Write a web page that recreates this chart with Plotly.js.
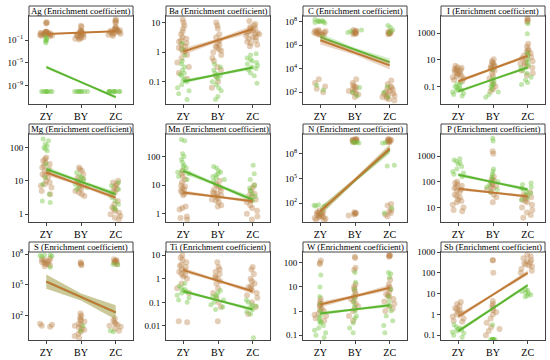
<!DOCTYPE html>
<html>
<head>
<meta charset="utf-8">
<script src="https://cdn.plot.ly/plotly-3.0.1.min.js"></script>
<style>
  body { margin: 0; background: #fff; }
  #chart { width: 550px; height: 360px; }
</style>
</head>
<body>
<div id="chart"></div>
<script>
var cats = ["ZY", "BY", "ZC"];

// all values are log10 of the enrichment coefficient
// each element list: [ZY points], [BY points], [ZC points]
var agBrown = [[2.1,1.9,2.0,0.5,0.4,0.3,0.2,0.1,0.0,-0.1,-0.2,0.35,0.15,-0.05,0.25,0.05,-0.15,-0.3,0.45,0.1,-0.25,0.0],
  [1.5,1.3,0.7,0.5,0.3,0.1,-0.1,-0.3,-0.5,-0.7,-0.9,0.2,0.0,-0.2,-0.4,0.4,-0.6,0.6,-0.8,0.1],
  [2.6,2.4,2.2,2.0,1.3,1.1,0.9,0.8,0.7,0.6,0.5,0.4,0.3,0.1,-0.1,-0.3,1.0,0.75,0.55,0.35,0.2,0.0]];
var agGreen = [[-0.4,-0.7,-1.0,-1.2,-1.5,-0.9,-10,-10,-10,-10,-10,-10,-10,-10],
  [-10,-10,-10,-10,-10,-10,-10,-10],
  [-10,-10,-10,-10,-10,-10,-10,-10,-10,-10]];
var agBrownFit = [0.03, 0.54], agGreenFit = [-5.74, -11.0], agBand = [0.1, 0.3];

var baBrown = [[1.1,1.0,0.9,0.8,0.7,0.6,0.5,0.4,0.3,0.2,0.1,0.05,0.0,-0.1,0.15,0.25,-0.2,-0.35,-0.5,-0.7,-0.9,0.45,0.35],
  [1.0,0.9,0.8,0.6,0.5,0.4,0.3,0.2,0.1,0.0,-0.1,-0.2,-0.3,-0.5,-0.6,-0.8,-1.0,-1.2,0.25,0.15,0.05],
  [1.05,0.95,0.9,0.85,0.8,0.75,0.7,0.65,0.6,0.55,0.5,0.45,0.4,0.35,0.3,0.25,0.2,0.7,0.6,0.5,0.8,0.65]];
var baGreen = [[0.3,0.1,-0.1,-0.3,-0.4,-0.5,-0.6,-0.7,-0.8,-0.9,-1.0,-1.1,-1.2,-1.3,-1.4,-1.6,-0.95,-0.75],
  [-0.4,-0.5,-0.6,-0.7,-0.75,-0.8,-0.9,-1.0,-1.1,-1.2,-1.3,-1.5,-1.6,-0.85],
  [-0.05,-0.1,-0.2,-0.3,-0.35,-0.4,-0.5,-0.55,-0.6,-0.7,-0.8,-1.05,-0.45,-0.25]];
var baBrownFit = [0.02, 0.78], baGreenFit = [-0.99, -0.52], baBand = [0.12, 0.07];

var cBrown = [[7.3,7.2,7.1,7.0,6.9,6.85,7.15,7.05,6.95,7.25,7.0,7.1,6.9,7.2,3.1,2.8,2.5,2.3,2.0],
  [7.3,7.2,7.1,7.0,6.95,7.15,7.05,7.25,7.0,3.1,2.8,2.6,2.4,2.2,2.0,1.8,1.6,2.5,2.3,2.1,1.9],
  [7.2,7.1,7.0,6.95,7.05,7.15,7.0,3.0,2.7,2.5,2.3,2.2,2.0,1.9,1.8,1.7,1.6,1.5,1.4,1.3,2.1,1.85,1.65,2.4]];
var cGreen = [[8.2,8.1,8.0,7.95,8.05,7.9,8.1,8.0,2.6,2.2],
  [7.3,7.2,7.1,2.4,2.0,1.7],
  [7.7,7.55,7.3,7.1,2.5,2.0,1.6]];
var cBrownFit = [6.43, 4.29], cGreenFit = [6.7, 4.57], cBand = [0.35, 0.3];

var iBrown = [[0.55,0.45,0.4,0.3,0.25,0.2,0.1,0.0,-0.1,-0.2,-0.3,-0.4,-0.5,-0.6,0.35,0.15,-0.05,-0.25],
  [1.05,0.9,0.8,0.7,0.6,0.5,0.4,0.3,0.2,0.0,-0.2,-0.4,-0.6,-0.8,-1.0,-1.2,-1.35,0.55,0.35],
  [4.1,4.0,3.9,3.85,2.2,2.0,1.8,1.6,1.5,1.4,1.3,1.2,1.1,1.0,0.9,0.8,0.7,0.6,0.5,0.4,0.2,0.0,-0.15,1.7]];
var iGreen = [[-0.7,-0.8,-0.9,-1.0,-1.1,-1.2,-1.3,-1.4,-1.5,-1.6,-1.7,-1.05,-1.25],
  [-0.4,-0.6,-0.8,-1.0,-1.2,-1.4,-1.6,-1.8,0.3,-0.9],
  [2.95,3.7,1.5,1.3,1.0,0.8,0.6,0.4,0.2,0.0,-0.3,-0.5,-0.7,-0.85]];
var iBrownFit = [-0.6, 1.29], iGreenFit = [-1.36, 0.43], iBand = [0.15, 0.12];

var mgBrown = [[1.7,1.65,1.6,1.55,1.5,1.45,1.4,1.3,1.25,1.2,1.15,1.1,1.0,0.95,0.9,0.85,0.8,0.7,0.6,1.35],
  [1.4,1.35,1.3,1.2,1.1,1.05,1.0,0.95,0.9,0.85,0.8,0.75,0.7,0.65,0.6,0.55],
  [1.0,0.95,0.9,0.85,0.8,0.75,0.7,0.65,0.2,0.15,0.1,0.05,0.0,-0.05,-0.1,-0.15,0.3,0.4]];
var mgGreen = [[2.25,2.2,2.1,2.05,2.0,1.95,1.9,1.5,1.3,1.1,0.9,0.6,0.4,0.35],
  [1.25,1.15,1.05,1.0,0.95,0.9,0.85,0.8,0.75,1.1],
  [0.95,0.85,0.75,0.6,0.5,0.4,0.3,0.2,0.15]];
var mgBrownFit = [1.25, 0.5], mgGreenFit = [1.35, 0.6], mgBand = [0.08, 0.08];

var mnBrown = [[1.5,1.4,1.3,1.2,1.1,1.0,0.9,0.85,0.8,0.75,0.7,0.65,0.25,0.2,0.15,-0.1,-0.15,-0.2,0.95],
  [1.15,1.05,1.0,0.95,0.9,0.85,0.8,0.75,0.7,0.65,0.6,0.55,0.5,0.45,0.4,0.3,0.25,0.7],
  [1.0,0.9,0.8,0.7,0.6,0.5,0.4,0.3,0.2,0.1,0.0,-0.1,-0.2,0.65,0.45]];
var mnGreen = [[2.6,2.55,2.1,2.0,1.9,1.8,1.7,1.6,1.5,1.4,1.3,1.2,1.45,1.65],
  [1.65,1.6,1.5,1.4,1.35,1.3,1.25,1.2,1.15,1.45],
  [1.7,1.4,1.2,1.0,0.9,0.8,0.7,0.6,0.5,0.45]];
var mnBrownFit = [0.74, 0.44], mnGreenFit = [1.5, 0.49], mnBand = [0.07, 0.1];

var nBrown = [[1.1,1.0,0.9,0.8,0.7,0.6,0.5,0.4,0.3,0.2,0.1,0.0,-0.1,0.85,0.65,0.45,0.25],
  [9.8,9.75,9.7,9.65,9.6,9.55,9.5,9.45,9.4,9.7,9.6,0.9,0.8,0.7,0.6,0.5,0.75],
  [9.8,9.7,9.65,9.6,9.55,9.5,9.45,9.4,9.7,1.9,1.7,1.2,1.0,0.8,0.6,0.4]];
var nGreen = [[1.8,1.7,1.65,1.75,1.6],
  [9.4,9.35,9.3,9.45],
  [9.3,9.35,6.6,6.5,1.4,0.8]];
var nBrownFit = [1.0, 8.65], nGreenFit = [1.05, 8.5], nBand = [0.5, 0.5];

var pBrown = [[2.0,1.95,1.9,1.85,1.8,1.75,1.7,1.65,1.6,1.5,1.4,1.3,1.2,1.1,1.0,0.9,0.85,1.45,1.25],
  [3.2,3.1,2.2,2.1,2.0,1.95,1.9,1.85,1.8,1.7,1.6,1.5,1.4,1.2,2.05,1.75],
  [1.6,1.5,1.45,1.4,1.35,1.3,1.2,1.1,1.0,0.9,0.8,0.7,0.6,1.25]];
var pGreen = [[2.9,2.85,2.8,2.7,2.6,2.5,2.4,2.3,2.2,2.75,2.35],
  [3.7,3.6,2.5,2.4,2.3,2.2,2.1,2.0,1.9,1.8,1.7,1.6],
  [1.95,1.9,1.8,1.7,1.6,1.5,1.4,1.3,1.75,1.55]];
var pBrownFit = [1.73, 1.43], pGreenFit = [2.28, 1.7], pBand = [0.07, 0.08];

var sBrown = [[7.6,7.5,7.4,7.3,7.2,7.1,7.0,6.9,6.8,7.45,7.25,7.05,1.2,1.1,1.0,0.9],
  [7.2,7.1,7.0,6.9,2.2,2.0,1.8,1.6,1.4,1.2,1.0,0.8,0.6,0.4,0.2,0.0,-0.2,1.5,1.1,0.7],
  [7.5,7.4,7.3,7.2,7.1,7.0,7.35,7.25,1.7,1.5,1.3,1.1,1.0,0.9,0.7,0.5,1.2]];
var sGreen = [[7.9,7.85,7.8,7.9,7.75,6.7],
  [1.0,0.5],
  [7.0,6.95,0.5,0.4]];
var sBrownFit = [5.3, 2.3], sGreenFit = [5.3, 2.3], sBand = [0.7, 0.7];

var tiBrown = [[1.0,0.9,0.8,0.7,0.6,0.5,0.4,0.3,0.2,0.1,0.0,-0.2,-0.4,-0.6,0.55,0.35,0.15,-1.8,-1.85],
  [0.7,0.5,0.4,0.3,0.2,0.1,0.0,-0.1,-0.2,-0.4,-0.6,-0.8,-1.0,-1.2,-1.8,0.05],
  [0.5,0.4,0.2,0.0,-0.1,-0.2,-0.3,-0.4,-0.5,-0.6,-0.7,-0.8,-1.0,-1.2,-1.5,-0.35]];
var tiGreen = [[-0.2,-0.3,-0.4,-0.5,-0.6,-0.7,-0.8,-0.9,-1.0,-0.55,-0.45],
  [-0.5,-0.6,-0.7,-0.8,-0.9,-1.0,-1.1,-1.2,-1.3,-0.75],
  [-0.9,-1.0,-1.1,-1.2,-1.3,-1.4,-1.5,-1.15,-2.5]];
var tiBrownFit = [0.37, -0.53], tiGreenFit = [-0.53, -1.3], tiBand = [0.1, 0.08];

var wBrown = [[2.1,2.0,1.95,0.5,0.4,0.3,0.2,0.1,0.0,-0.1,-0.2,-0.3,-0.4,0.25,0.05,-0.15],
  [2.25,2.2,1.8,1.7,1.1,1.0,0.9,0.8,0.7,0.6,0.5,0.4,0.3,0.2,0.1,0.0,-0.2,-0.4,0.55],
  [2.3,2.3,2.3,2.25,1.3,1.1,1.0,0.9,0.8,0.7,0.6,0.5,0.4,0.3,0.2,0.1,0.0,0.65]];
var wGreen = [[1.5,1.0,0.6,0.3,0.0,-0.2,-0.3,-0.4,-0.5,-0.6,-0.7,-0.8,-0.9,-1.0,-1.1,-0.45],
  [1.6,1.2,0.9,0.6,0.4,0.2,0.0,-0.2,-0.3,-0.5,-0.7,-0.9],
  [1.6,1.55,1.4,0.9,0.6,0.4,0.2,0.0,-0.2,-0.4,-0.6,-0.9]];
var wBrownFit = [0.27, 0.97], wGreenFit = [-0.1, 0.24], wBand = [0.12, 0.08];

var sbBrown = [[0.6,0.5,0.4,0.3,0.2,0.1,0.0,-0.1,-0.2,-0.3,-0.35,0.25,0.05],
  [2.6,2.6,2.0,0.65,0.5,0.4,0.3,0.1,0.0,-0.2,-0.4,-0.6,-0.7,-0.8,-1.0,0.2],
  [2.85,2.8,2.7,2.6,2.5,2.45,2.4,2.3,2.2,2.1,2.0,2.55,2.35]];
var sbGreen = [[-0.5,-0.6,-0.7,-0.75,-0.8,-0.85,-0.9,-1.0,-1.1,-0.65],
  [-1.2,-1.2,-1.2,-1.2,-1.2,-1.2,-1.2,-0.5],
  [1.2,1.1,1.05,1.0,0.95,0.9,0.85,1.15]];
var sbBrownFit = [-0.1, 2.0], sbGreenFit = [-0.8, 1.4], sbBand = [0.12, 0.1];

// y ranges (log10) and tick exponents per panel
var names  = ["Ag","Ba","C","I","Mg","Mn","N","P","S","Ti","W","Sb"];
var yRanges = [[-12.2,3.2],[-1.75,1.22],[1.0,8.5],[-2.3,4.27],[-0.23,2.4],[-0.29,2.79],
  [-0.3,10.4],[0.43,3.87],[-0.4,8.2],[-2.6,1.14],[-1.2,2.45],[-1.23,3.0]];
var yTicks = [[-1,-5,-9],[-1,0,1],[2,4,6,8],[-1,1,3],[0,1,2],[0,1,2],
  [2,5,8],[1,2,3],[2,5,8],[-2,-1,0,1],[-1,0,1,2],[-1,0,1,2,3]];
var powerLabels = ["Ag","C","N","S"];

var brownSets = [agBrown,baBrown,cBrown,iBrown,mgBrown,mnBrown,nBrown,pBrown,sBrown,tiBrown,wBrown,sbBrown];
var greenSets = [agGreen,baGreen,cGreen,iGreen,mgGreen,mnGreen,nGreen,pGreen,sGreen,tiGreen,wGreen,sbGreen];
var brownFits = [agBrownFit,baBrownFit,cBrownFit,iBrownFit,mgBrownFit,mnBrownFit,nBrownFit,pBrownFit,sBrownFit,tiBrownFit,wBrownFit,sbBrownFit];
var greenFits = [agGreenFit,baGreenFit,cGreenFit,iGreenFit,mgGreenFit,mnGreenFit,nGreenFit,pGreenFit,sGreenFit,tiGreenFit,wGreenFit,sbGreenFit];
var bands = [agBand,baBand,cBand,iBand,mgBand,mnBand,nBand,pBand,sBand,tiBand,wBand,sbBand];

var brownPt = "rgba(185,125,65,0.38)", greenPt = "rgba(110,195,60,0.42)";
var brownLine = "#c07a35", greenLine = "#5cb531";
var brownFill = "rgba(195,135,80,0.35)", greenFill = "rgba(120,200,80,0.35)";
var serif = "Liberation Serif, Times New Roman, serif";

// page layout in pixels
var colL = [29, 166, 303, 441], colW = 104;
var stripTop = [6, 124, 242], stripH = 10, plotH = 88;
var W = 550, H = 360;

function pow10(a) { return a.map(function (v) { return Math.pow(10, v); }); }

function points(sets, color, size, k) {
  var x = [], y = [];
  sets.forEach(function (vals, c) {
    vals.forEach(function (v) { x.push(cats[c]); y.push(Math.pow(10, v)); });
  });
  return {
    type: "box", x: x, y: y, boxpoints: "all", jitter: 0.85, pointpos: 0, width: 0.5,
    fillcolor: "rgba(0,0,0,0)", line: {width: 0, color: "rgba(0,0,0,0)"}, whiskerwidth: 0,
    marker: {color: color, size: size, line: {width: 0}},
    xaxis: "x" + k, yaxis: "y" + k, showlegend: false, hoverinfo: "y"
  };
}

function fitTraces(fit, half, fill, color, k) {
  var mid = (fit[0] + fit[1]) / 2;
  var up = [fit[0] + half, mid + half * 0.5, fit[1] + half];
  var lo = [fit[0] - half, mid - half * 0.5, fit[1] - half];
  return [{
    type: "scatter", mode: "lines", x: ["ZY", "BY", "ZC", "ZC", "BY", "ZY"],
    y: pow10(up.concat(lo.reverse())), fill: "toself", fillcolor: fill,
    line: {width: 0}, xaxis: "x" + k, yaxis: "y" + k, showlegend: false, hoverinfo: "skip"
  }, {
    type: "scatter", mode: "lines", x: ["ZY", "ZC"], y: pow10(fit),
    line: {color: color, width: 2}, xaxis: "x" + k, yaxis: "y" + k, showlegend: false
  }];
}

function tickText(t, power) {
  if (power) return "10<sup>" + (t < 0 ? "\u2212" + (-t) : t) + "</sup>";
  return t >= 0 ? String(Math.pow(10, t)) : Math.pow(10, t).toFixed(-t);
}

var data = [], layout = {
  width: W, height: H, margin: {l: 0, r: 0, t: 0, b: 0},
  paper_bgcolor: "#fff", plot_bgcolor: "#fff", boxmode: "overlay",
  showlegend: false, shapes: [], annotations: [],
  font: {family: serif, color: "#000"}
};

names.forEach(function (name, i) {
  var k = i + 1, r = Math.floor(i / 4), c = i % 4;
  data.push(points(brownSets[i], brownPt, 6, k));
  data.push(points(greenSets[i], greenPt, 5, k));
  data = data.concat(fitTraces(greenFits[i], bands[i][1], greenFill, greenLine, k));
  data = data.concat(fitTraces(brownFits[i], bands[i][0], brownFill, brownLine, k));

  var x0 = colL[c] / W, x1 = (colL[c] + colW) / W;
  var yTop = stripTop[r] + stripH;
  var power = powerLabels.indexOf(name) >= 0;
  layout["xaxis" + k] = {
    domain: [x0, x1], anchor: "y" + k, type: "category",
    categoryorder: "array", categoryarray: cats, range: [-0.5, 2.5],
    showline: true, mirror: true, linecolor: "#444", linewidth: 1,
    ticks: "outside", ticklen: 3, tickcolor: "#444", showgrid: false, zeroline: false,
    tickfont: {family: serif, size: 10, color: "#000"}
  };
  layout["yaxis" + k] = {
    domain: [1 - (yTop + plotH) / H, 1 - yTop / H], anchor: "x" + k, type: "log",
    range: yRanges[i], tickmode: "array",
    tickvals: pow10(yTicks[i]),
    ticktext: yTicks[i].map(function (t) { return tickText(t, power); }),
    showline: true, mirror: true, linecolor: "#444", linewidth: 1,
    ticks: "outside", ticklen: 3, tickcolor: "#444", showgrid: false, zeroline: false,
    tickfont: {family: serif, size: 9, color: "#000"}
  };
  layout.shapes.push({
    type: "rect", xref: "paper", yref: "paper", x0: x0, x1: x1,
    y0: 1 - yTop / H, y1: 1 - stripTop[r] / H,
    line: {color: "#444", width: 1}, fillcolor: "#fff"
  });
  layout.annotations.push({
    xref: "paper", yref: "paper", x: (x0 + x1) / 2, y: 1 - (stripTop[r] + stripH / 2) / H,
    text: name + " (Enrichment coefficient)", showarrow: false,
    font: {family: serif, size: 8.8, color: "#000"}, xanchor: "center", yanchor: "middle"
  });
});

Plotly.newPlot("chart", data, layout, {displayModeBar: false, staticPlot: true});
</script>
</body>
</html>
